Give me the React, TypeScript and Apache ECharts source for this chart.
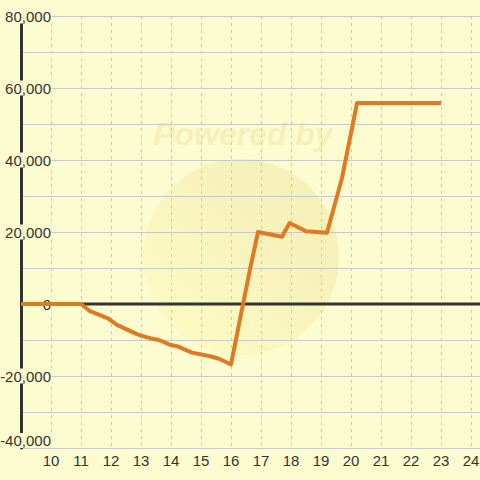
import React, { useEffect, useRef } from "react";
import * as echarts from "echarts";

const xValues = [9, 11, 11.3, 11.9, 12.2, 12.9, 13.3, 13.6, 14, 14.2, 14.7, 15.3, 15.6, 16, 16.63, 16.9, 17.7, 17.95, 18.5, 19.2, 19.7, 20.2, 23];
const yValues = [0, 0, -2000, -4000, -5800, -8500, -9500, -10000, -11400, -11700, -13500, -14500, -15200, -16800, 9500, 20000, 18700, 22500, 20200, 19800, 35000, 55800, 55800];
const zeroLineX = [9, 24.3];
const zeroLineY = [0, 0];

const BG = "#fcfcd0";

export default function App() {
  const ref = useRef<HTMLDivElement>(null);
  useEffect(() => {
    if (!ref.current) return;
    const chart = echarts.init(ref.current, undefined, { renderer: "svg" });
    chart.setOption({
      animation: false,
      backgroundColor: BG,
      grid: { left: 21, right: 0, top: 16, bottom: 32, containLabel: false, outerBoundsMode: "none" },
      graphic: [
        {
          type: "circle",
          z: -10,
          silent: true,
          shape: { cx: 241, cy: 257, r: 98 },
          style: {
            fill: new echarts.graphic.LinearGradient(0, 1, 1, 0, [
              { offset: 0, color: "rgba(255,250,185,0.5)" },
              { offset: 1, color: "rgba(238,226,165,0.6)" },
            ]),
          },
        },
        {
          type: "text",
          z: -10,
          silent: true,
          x: 243,
          y: 134,
          style: {
            text: "Powered by",
            font: "italic bold 32px 'Liberation Sans', Arial, sans-serif",
            fill: "rgba(240,228,160,0.5)",
            align: "center",
            verticalAlign: "middle",
          },
        },
      ],
      xAxis: {
        type: "value",
        min: 9,
        max: 24.3,
        interval: 1,
        axisLine: { show: false },
        axisTick: { show: false },
        axisLabel: {
          showMinLabel: false,
          showMaxLabel: false,
          margin: 5,
          fontSize: 15,
          color: "#333",
          fontFamily: "'Liberation Sans', Arial, sans-serif",
        },
        splitLine: { show: true, lineStyle: { color: "#c8c8c8", type: [3, 4], width: 1 } },
      },
      yAxis: {
        type: "value",
        min: -40000,
        max: 80000,
        interval: 20000,
        axisLine: { show: true, lineStyle: { color: "#333", width: 3 } },
        axisTick: { show: false },
        minorTick: { show: false, splitNumber: 2 },
        minorSplitLine: { show: true, lineStyle: { color: "#c8c8c8", width: 1 } },
        splitLine: { show: true, lineStyle: { color: "#c8c8c8", width: 1 } },
        axisLabel: {
          inside: true,
          align: "right",
          margin: 31,
          fontSize: 15,
          color: "#333",
          fontFamily: "'Liberation Sans', Arial, sans-serif",
          backgroundColor: BG,
          padding: [0, 1, 0, 1],
          verticalAlignMinLabel: "bottom",
          formatter: (v: number) => v.toLocaleString("en-US"),
        },
      },
      series: [
        {
          type: "line",
          name: "zero",
          z: 1,
          silent: true,
          symbol: "none",
          data: zeroLineX.map((x, i) => [x, zeroLineY[i]]),
          lineStyle: { color: "#333", width: 3 },
        },
        {
          type: "line",
          name: "value",
          z: 3,
          symbol: "none",
          data: xValues.map((x, i) => [x, yValues[i]]),
          lineStyle: { color: "#e07a22", width: 4, join: "round" },
        },
      ],
    });
    return () => chart.dispose();
  }, []);
  return (
    <div
      ref={ref}
      style={{ position: "fixed", left: 0, top: 0, width: 480, height: 480 }}
    />
  );
}
